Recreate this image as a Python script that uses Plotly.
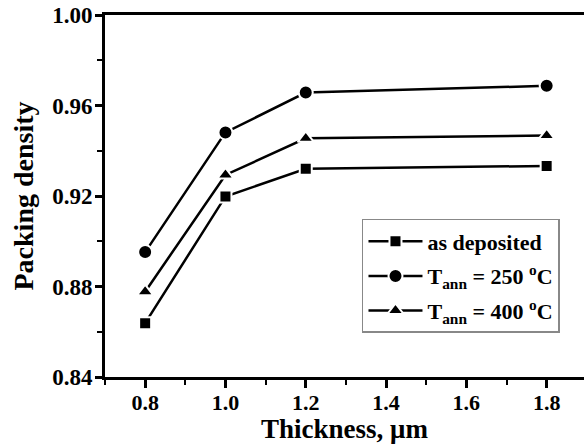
import plotly.graph_objects as go

thickness = [0.8, 1.0, 1.2, 1.8]
as_deposited = [0.8638, 0.9198, 0.9320, 0.9333]
t_ann_250 = [0.8952, 0.9481, 0.9657, 0.9687]
t_ann_400 = [0.8777, 0.9293, 0.9455, 0.9467]

series = [
    ("<b>as deposited</b>", as_deposited, "square", 12),
    ("<b>T<sub>ann</sub> = 250 <sup>o</sup>C</b>", t_ann_250, "circle", 14),
    ("<b>T<sub>ann</sub> = 400 <sup>o</sup>C</b>", t_ann_400, "triangle-up", 14),
]

FONT = "Liberation Serif"

fig = go.Figure()
for i, (name, vals, sym, sz) in enumerate(series):
    fig.add_trace(go.Scatter(
        x=thickness, y=vals, name=name, mode="lines+markers",
        legendgroup=f"g{i}",
        line=dict(color="black", width=2.5),
        marker=dict(symbol=sym, size=sz, color="black",
                    line=dict(color="white", width=2)),
    ))

fig.update_layout(
    width=584, height=444,
    margin=dict(l=105, r=0, t=15, b=67),
    paper_bgcolor="white", plot_bgcolor="white",
    font=dict(family=FONT, size=20, color="black"),
    showlegend=True,
    legend=dict(
        x=0.5365, y=0.4365, xanchor="left", yanchor="top",
        bordercolor="#888888", borderwidth=1.5, bgcolor="white",
        font=dict(family=FONT, size=22, color="black"),
        itemwidth=54, traceorder="grouped", tracegroupgap=3,
    ),
    xaxis=dict(
        range=[0.7, 1.893], tickvals=[0.8, 1.0, 1.2, 1.4, 1.6, 1.8],
        ticktext=["<b>0.8</b>", "<b>1.0</b>", "<b>1.2</b>", "<b>1.4</b>", "<b>1.6</b>", "<b>1.8</b>"],
        showgrid=False, zeroline=False,
        showline=True, linecolor="black", linewidth=3, mirror=True,
        ticks="outside", ticklen=8, tickwidth=2.5, tickcolor="black",
        ticklabelstandoff=-4,
        minor=dict(dtick=0.1, tick0=0.7, ticks="outside", ticklen=5, tickwidth=2, tickcolor="black"),
        tickfont=dict(family=FONT, size=22, color="black"),
        title=dict(text="<b>Thickness, μm</b>", standoff=0,
                   font=dict(family=FONT, size=27, color="black")),
    ),
    yaxis=dict(
        range=[0.84, 1.00], tickvals=[0.84, 0.88, 0.92, 0.96, 1.00],
        ticktext=["<b>0.84</b>", "<b>0.88</b>", "<b>0.92</b>", "<b>0.96</b>", "<b>1.00</b>"],
        showgrid=False, zeroline=False,
        showline=True, linecolor="black", linewidth=3,
        ticks="outside", ticklen=7, tickwidth=2.5, tickcolor="black",
        ticklabelstandoff=-2,
        minor=dict(dtick=0.02, tick0=0.84, ticks="outside", ticklen=5, tickwidth=2, tickcolor="black"),
        tickfont=dict(family=FONT, size=23, color="black"),
        title=dict(text="<b>Packing density</b>", standoff=11,
                   font=dict(family=FONT, size=28, color="black")),
    ),
)

fig.write_html("out.html")
